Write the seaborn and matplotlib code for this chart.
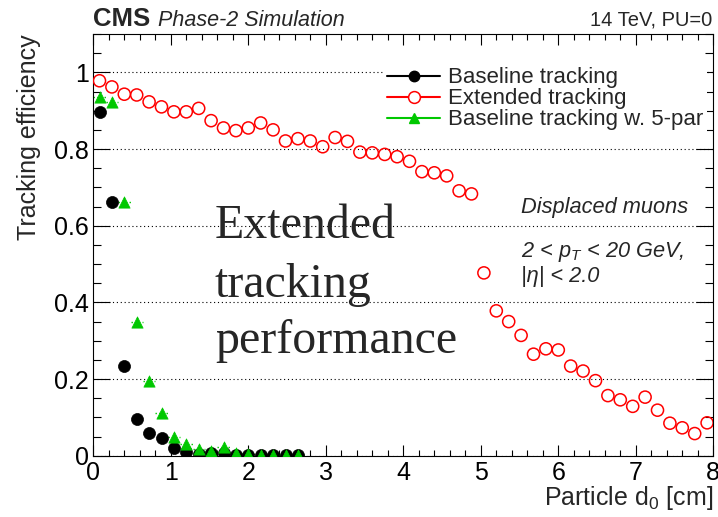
import numpy as np
import pandas as pd
import matplotlib
matplotlib.use("Agg")
import matplotlib.pyplot as plt
import seaborn as sns
from matplotlib.lines import Line2D
from matplotlib.ticker import MultipleLocator

# ---------------- data ----------------
bin_edges = np.linspace(0.0, 8.0, 51)          # 50 bins of 0.16 cm
bin_centers = 0.5 * (bin_edges[:-1] + bin_edges[1:])

extended_eff = [0.978, 0.962, 0.943, 0.941, 0.923, 0.910, 0.897, 0.897, 0.906, 0.874,
                0.855, 0.848, 0.855, 0.868, 0.850, 0.821, 0.827, 0.821, 0.806, 0.830,
                0.820, 0.792, 0.790, 0.786, 0.780, 0.768, 0.741, 0.738, 0.730, 0.691,
                0.683, 0.477, 0.378, 0.350, 0.314, 0.265, 0.279, 0.276, 0.234, 0.221,
                0.196, 0.157, 0.146, 0.129, 0.153, 0.119, 0.085, 0.073, 0.058, 0.086]
baseline_eff = [0.897, 0.661, 0.235, 0.095, 0.059, 0.046, 0.020, 0.010, 0.005, 0.007,
                0.008, 0.002, 0.002, 0.002, 0.002, 0.002, 0.002]
baseline5_eff = [0.936, 0.922, 0.661, 0.350, 0.196, 0.112, 0.048, 0.031, 0.017, 0.013,
                 0.024, 0.006, 0.005, 0.002, 0.002, 0.002, 0.002]

series_labels = ["Baseline tracking", "Extended tracking", "Baseline tracking w. 5-par"]
x_ticks = [0, 1, 2, 3, 4, 5, 6, 7, 8]
y_ticks = [0, 0.2, 0.4, 0.6, 0.8, 1.0]

df_base = pd.DataFrame({"d0": bin_centers[:len(baseline_eff)], "eff": baseline_eff})
df_ext = pd.DataFrame({"d0": bin_centers[:len(extended_eff)], "eff": extended_eff})
df_b5 = pd.DataFrame({"d0": bin_centers[:len(baseline5_eff)], "eff": baseline5_eff})

# ---------------- style ----------------
sns.set_theme(style="ticks")
plt.rcParams["font.family"] = ["Liberation Sans", "DejaVu Sans"]
plt.rcParams["mathtext.fontset"] = "custom"
plt.rcParams["mathtext.rm"] = "Liberation Sans"
plt.rcParams["mathtext.it"] = "Liberation Sans:italic"
plt.rcParams["mathtext.bf"] = "Liberation Sans:bold"

W, H = 718, 517
fig = plt.figure(figsize=(W / 100, H / 100), dpi=100)
ax = fig.add_axes([93.3 / W, 1 - 455.8 / H, 620 / W, (455.8 - 34) / H])

BLACK = "#000000"
RED = "#ff0000"
GREEN = "#00c800"

sns.scatterplot(data=df_base, x="d0", y="eff", ax=ax, marker="o", s=75,
                color=BLACK, edgecolor=BLACK, linewidth=0.5, zorder=3, legend=False)
sns.scatterplot(data=df_ext, x="d0", y="eff", ax=ax, marker="o", s=76,
                facecolor="none", edgecolor=RED, linewidth=1.1, zorder=3, legend=False)
eb = ax.errorbar(df_b5["d0"], df_b5["eff"], xerr=0.08, fmt="none", ecolor=GREEN,
                 elinewidth=1.0, zorder=2)
for lc in eb[2]:
    lc.set_linestyle(":")
sns.scatterplot(data=df_b5, x="d0", y="eff", ax=ax, marker="^", s=66,
                color=GREEN, edgecolor=GREEN, linewidth=0.5, zorder=4, legend=False)

ax.set_xlim(0, 8)
ax.set_ylim(0, 1.1)
ax.set_xticks(x_ticks)
ax.set_xticklabels([str(t) for t in x_ticks])
ax.set_yticks(y_ticks)
ax.set_yticklabels(["0", "0.2", "0.4", "0.6", "0.8", "1"])
ax.xaxis.set_minor_locator(MultipleLocator(0.2))
ax.yaxis.set_minor_locator(MultipleLocator(0.05))
ax.tick_params(axis="both", which="both", direction="in", top=True, right=True,
               labelsize=18, colors="black", width=0.8)
ax.tick_params(axis="x", which="major", length=8, pad=4)
ax.tick_params(axis="x", which="minor", length=4.5)
ax.tick_params(axis="y", which="major", length=12, pad=3)
ax.tick_params(axis="y", which="minor", length=6)
for sp in ax.spines.values():
    sp.set_linewidth(0.8)
    sp.set_color("black")
ax.yaxis.grid(True, which="major", linestyle=(0, (1, 2.5)), color="black", linewidth=0.8)
ax.set_axisbelow(True)

ax.set_xlabel("Particle d$_0$ [cm]", fontsize=18, loc="right")
ax.xaxis.set_label_coords(1.0, -0.066)
ax.set_ylabel("Tracking efficiency", fontsize=18, loc="top")
ax.yaxis.set_label_coords(-0.085, 1.0)

# legend
handles = [
    Line2D([], [], color=BLACK, lw=1.5, marker="o", markersize=7.5, markerfacecolor=BLACK),
    Line2D([], [], color=RED, lw=1.5, marker="o", markersize=8.5, markerfacecolor="white",
           markeredgecolor=RED, markeredgewidth=1.1),
    Line2D([], [], color=GREEN, lw=1.5, marker="^", markersize=7.5, markerfacecolor=GREEN),
]
leg = ax.legend(handles, series_labels, loc="upper left",
                bbox_to_anchor=(383 / W, 1 - 63 / H), bbox_transform=fig.transFigure,
                fontsize=16, frameon=True, fancybox=False, framealpha=1,
                facecolor="white", edgecolor="none", borderpad=0.2,
                handlelength=2.36, handletextpad=0.35, labelspacing=0.0,
                borderaxespad=0)
leg.set_zorder(5)

# header texts
fig.text(93 / W, 1 - 26 / H, "CMS", fontsize=18.5, weight="bold", ha="left", va="baseline")
fig.text(158 / W, 1 - 26 / H, "Phase-2 Simulation", fontsize=15.5, style="italic",
         ha="left", va="baseline")
fig.text(712 / W, 1 - 26 / H, "14 TeV, PU=0", fontsize=14.5, ha="right", va="baseline")

# in-plot annotation
for txt, yb in [("Displaced muons", 212.7), ("2 < p$_T$ < 20 GeV,", 256.7),
                ("|η| < 2.0", 281.7)]:
    fig.text(521 / W, 1 - yb / H, txt, fontsize=15.7, style="italic",
             ha="left", va="baseline")

for txt, yb in [("Extended", 238.3), ("tracking", 296.7), ("performance", 353.3)]:
    fig.text(215 / W, 1 - yb / H, txt, fontsize=34.5, family="Liberation Serif",
             ha="left", va="baseline")

fig.savefig("out.png", dpi=100)
